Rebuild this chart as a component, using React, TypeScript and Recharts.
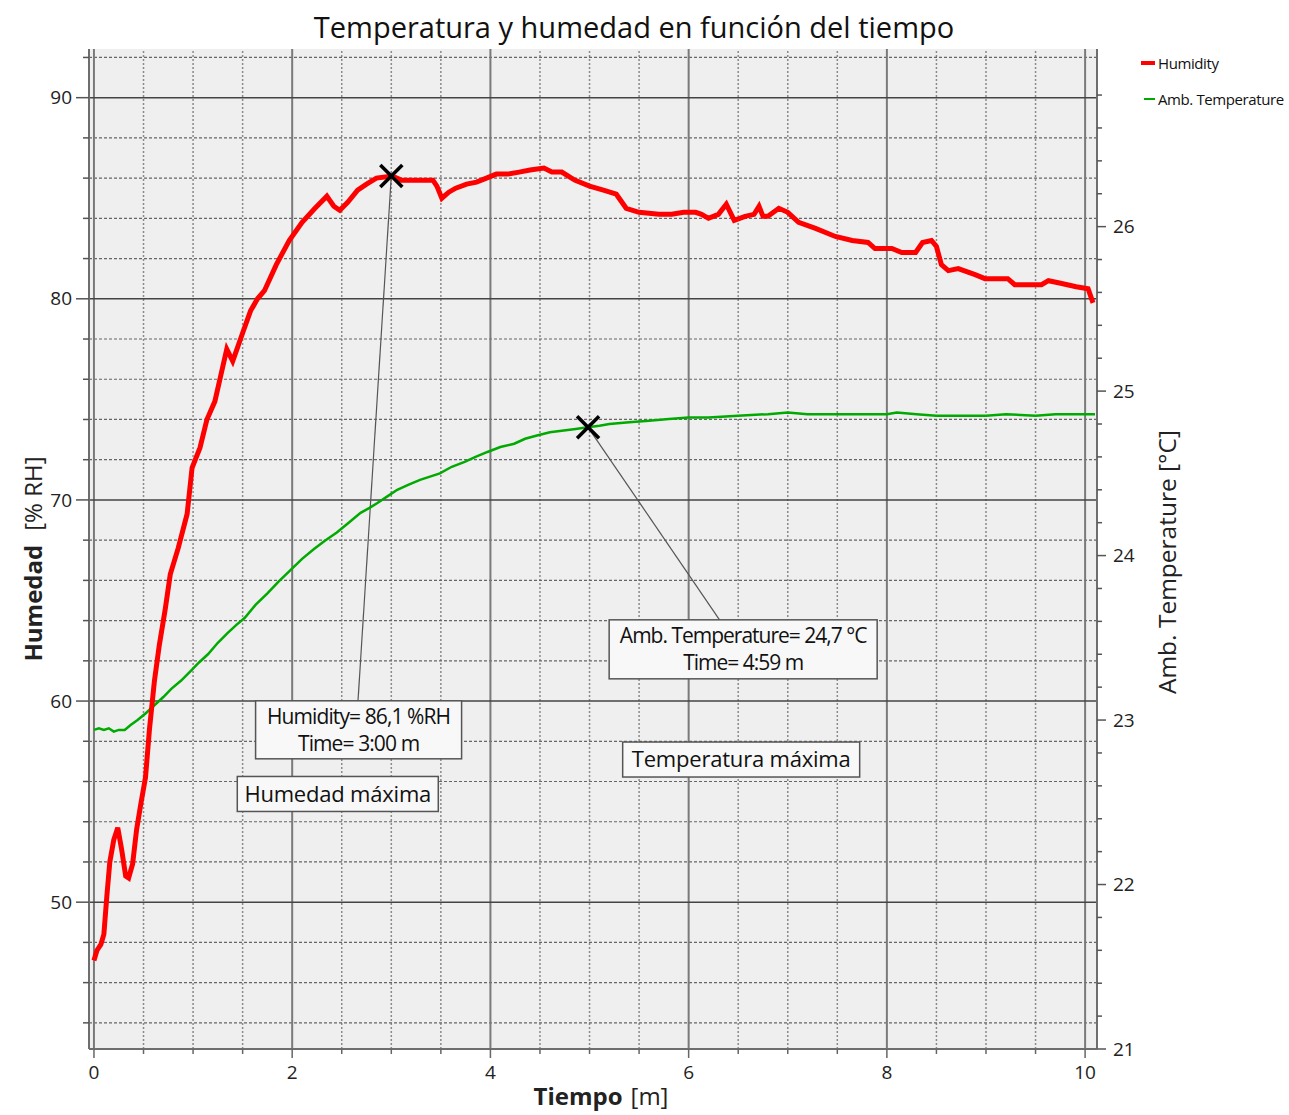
import React from "react"
import { LineChart, Line, XAxis, YAxis, ReferenceLine, ReferenceArea, ReferenceDot, Legend } from "recharts"

const FONT = '"Open Sans", "Noto Sans", sans-serif'

// humedad (% RH) vs tiempo (min)
const humTime = [
  0.0, 0.03, 0.07, 0.1, 0.13, 0.16, 0.2, 0.24, 0.28, 0.32, 0.35, 0.39, 0.43, 0.47, 0.52, 0.56, 0.61, 0.66, 0.72,
  0.77, 0.85, 0.94, 0.99, 1.07, 1.14, 1.22, 1.28, 1.34, 1.4, 1.45, 1.5, 1.58, 1.65, 1.72, 1.84, 1.97, 2.1, 2.23,
  2.35, 2.42, 2.48, 2.56, 2.66, 2.75, 2.85, 3.01, 3.1, 3.2, 3.3, 3.42, 3.46, 3.51, 3.58, 3.65, 3.76, 3.86, 3.96,
  4.06, 4.18, 4.29, 4.4, 4.54, 4.62, 4.72, 4.85, 5.0, 5.14, 5.27, 5.37, 5.5, 5.7, 5.83, 5.95, 6.07, 6.13, 6.2, 6.3,
  6.38, 6.42, 6.46, 6.57, 6.66, 6.71, 6.75, 6.8, 6.91, 7.0, 7.11, 7.28, 7.48, 7.65, 7.81, 7.88, 8.05, 8.15, 8.29,
  8.36, 8.45, 8.5, 8.55, 8.62, 8.72, 8.89, 8.99, 9.22, 9.29, 9.56, 9.63, 9.73, 9.91, 10.03, 10.08,
]
const humValue = [
  47.1, 47.6, 47.9, 48.4, 50.3, 52.0, 53.1, 53.7, 52.6, 51.3, 51.2, 51.9, 53.6, 54.8, 56.2, 58.6, 61.0, 62.8, 64.6,
  66.3, 67.6, 69.3, 71.6, 72.6, 74.0, 74.9, 76.2, 77.5, 76.9, 77.6, 78.3, 79.4, 80.0, 80.4, 81.7, 82.9, 83.8, 84.5,
  85.1, 84.6, 84.4, 84.8, 85.4, 85.7, 86.0, 86.1, 85.9, 85.9, 85.9, 85.9, 85.6, 85.0, 85.3, 85.5, 85.7, 85.8, 86.0,
  86.2, 86.2, 86.3, 86.4, 86.5, 86.3, 86.3, 85.9, 85.6, 85.4, 85.2, 84.5, 84.3, 84.2, 84.2, 84.3, 84.3, 84.2, 84.0, 84.2,
  84.7, 84.3, 83.9, 84.1, 84.2, 84.6, 84.1, 84.1, 84.5, 84.3, 83.8, 83.5, 83.1, 82.9, 82.8, 82.5, 82.5, 82.3, 82.3,
  82.8, 82.9, 82.6, 81.7, 81.4, 81.5, 81.2, 81.0, 81.0, 80.7, 80.7, 80.9, 80.8, 80.6, 80.5, 79.8,
]

// temperatura ambiente (°C) vs tiempo (min)
const tempTime = [
  0.0, 0.05, 0.1, 0.15, 0.2, 0.25, 0.31, 0.37, 0.44, 0.52, 0.61, 0.7, 0.78, 0.88, 0.98, 1.06, 1.15, 1.25, 1.35,
  1.44, 1.52, 1.63, 1.75, 1.86, 1.98, 2.1, 2.22, 2.33, 2.45, 2.57, 2.69, 2.78, 2.86, 2.96, 3.06, 3.17, 3.29, 3.39,
  3.49, 3.61, 3.74, 3.85, 3.97, 4.1, 4.24, 4.35, 4.47, 4.6, 4.74, 4.86, 4.98, 5.1, 5.2, 5.4, 5.6, 5.8, 6.0, 6.2,
  6.5, 6.8, 7.0, 7.2, 7.5, 7.8, 8.0, 8.1, 8.3, 8.5, 8.7, 9.0, 9.2, 9.5, 9.7, 9.9, 10.1,
]
const tempValue = [
  22.94, 22.95, 22.94, 22.95, 22.93, 22.94, 22.94, 22.97, 23.0, 23.04, 23.09, 23.14, 23.19, 23.24, 23.3, 23.35,
  23.4, 23.47, 23.53, 23.58, 23.62, 23.7, 23.77, 23.84, 23.91, 23.98, 24.04, 24.09, 24.14, 24.2, 24.26, 24.29,
  24.32, 24.36, 24.4, 24.43, 24.46, 24.48, 24.5, 24.54, 24.57, 24.6, 24.63, 24.66, 24.68, 24.71, 24.73, 24.75,
  24.76, 24.77, 24.78, 24.79, 24.8, 24.81, 24.82, 24.83, 24.84, 24.84, 24.85, 24.86, 24.87, 24.86, 24.86, 24.86,
  24.86, 24.87, 24.86, 24.85, 24.85, 24.85, 24.86, 24.85, 24.86, 24.86, 24.86,
]

const xMajor = [0, 2, 4, 6, 8, 10]
const xMinor = [0.5, 1, 1.5, 2.5, 3, 3.5, 4.5, 5, 5.5, 6.5, 7, 7.5, 8.5, 9, 9.5]
const leftMajor = [50, 60, 70, 80, 90]
const leftMinor = [44, 46, 48, 52, 54, 56, 58, 62, 64, 66, 68, 72, 74, 76, 78, 82, 84, 86, 88, 92]
const rightTicks = [
  21, 21.2, 21.4, 21.6, 21.8, 22, 22.2, 22.4, 22.6, 22.8, 23, 23.2, 23.4, 23.6, 23.8, 24, 24.2, 24.4, 24.6, 24.8,
  25, 25.2, 25.4, 25.6, 25.8, 26, 26.2, 26.4, 26.6, 26.8,
]

// anotaciones: máximos y cajas de texto (coordenadas de datos)
const humMax = { x: 3.0, y: 86.1 }
const humBox = { x: 2.67, y: 58.57 }
const humTitle = { x: 2.46, y: 55.38 }
const tempMax = { x: 4.985, y: 24.78 }
const tempBox = { x: 6.55, y: 23.43 }
const tempTitle = { x: 6.53, y: 22.76 }

const xDomain = [-0.05, 10.12]
const leftDomain = [42.7, 92.42]
const rightDomain = [21, 27.08]

const humData = humTime.map((t, i) => ({ t, hum: humValue[i] }))
const tempData = tempTime.map((t, i) => ({ t, temp: tempValue[i] }))

const isWhole = (v: number) => Math.abs(v - Math.round(v)) < 1e-6

const XTick = (props: any) => {
  const { x, y, payload } = props
  const major = isWhole(payload.value / 2)
  return (
    <g>
      <line x1={x} x2={x} y1={y} y2={y + (major ? 9 : 5)} stroke="#666" strokeWidth={1.5} />
      {major && (
        <text x={x} y={y + 30} textAnchor="middle" fontSize={19} fill="#222" fontFamily={FONT}>
          {payload.value}
        </text>
      )}
    </g>
  )
}

const LeftTick = (props: any) => {
  const { x, y, payload } = props
  const major = isWhole(payload.value / 10)
  return (
    <g>
      <line x1={x - (major ? 13 : 6)} x2={x} y1={y} y2={y} stroke="#555" strokeWidth={1.5} />
      {major && (
        <text x={x - 17} y={y} dy="0.35em" textAnchor="end" fontSize={19} fill="#222" fontFamily={FONT}>
          {payload.value}
        </text>
      )}
    </g>
  )
}

const RightTick = (props: any) => {
  const { x, y, payload } = props
  const major = isWhole(payload.value)
  return (
    <g>
      <line x1={x} x2={x + (major ? 9 : 5)} y1={y} y2={y} stroke="#555" strokeWidth={1.5} />
      {major && (
        <text x={x + 16} y={y} dy="0.35em" textAnchor="start" fontSize={19} fill="#222" fontFamily={FONT}>
          {Math.round(payload.value)}
        </text>
      )}
    </g>
  )
}

const XMark = (props: any) => {
  const { cx, cy } = props
  const s = 11
  return (
    <g>
      <line x1={cx - s} y1={cy - s} x2={cx + s} y2={cy + s} stroke="#000" strokeWidth={3.5} />
      <line x1={cx - s} y1={cy + s} x2={cx + s} y2={cy - s} stroke="#000" strokeWidth={3.5} />
    </g>
  )
}

const makeBox = (lines: string[], w: number, h: number, fontSize: number, spacing: number) => (props: any) => {
  const { cx, cy } = props
  const lh = lines.length > 1 ? 27 : 0
  return (
    <g>
      <rect x={cx - w / 2} y={cy - h / 2} width={w} height={h} fill="#f8f8f8" stroke="#555" strokeWidth={1.5} />
      {lines.map((s, i) => (
        <text
          key={i}
          x={cx}
          y={cy + (i - (lines.length - 1) / 2) * lh}
          dy="0.36em"
          textAnchor="middle"
          fontSize={fontSize}
          letterSpacing={spacing}
          fill="#111"
          fontFamily={FONT}
        >
          {s}
        </text>
      ))}
    </g>
  )
}

const HumBox = makeBox(["Humidity= 86,1 %RH", "Time= 3:00 m"], 206, 58, 21, -0.9)
const HumTitle = makeBox(["Humedad máxima"], 201, 35, 22, -0.2)
const TempBox = makeBox(["Amb. Temperature= 24,7 °C", "Time= 4:59 m"], 268, 59, 21, -1)
const TempTitle = makeBox(["Temperatura máxima"], 237, 35, 22, -0.2)

const XLabel = (props: any) => {
  const { viewBox } = props
  const cx = viewBox.x + viewBox.width / 2 + 8
  return (
    <text x={cx} y={viewBox.y + 56} textAnchor="middle" fontSize={24} fill="#222" fontFamily={FONT}>
      <tspan fontWeight="bold">Tiempo</tspan>
      <tspan dx={8}>[m]</tspan>
    </text>
  )
}

const LeftLabel = (props: any) => {
  const { viewBox } = props
  const x = viewBox.x + 22
  const y = viewBox.y + viewBox.height / 2 + 10
  return (
    <text x={x} y={y} transform={`rotate(-90, ${x}, ${y})`} textAnchor="middle" fontSize={24} fill="#222" fontFamily={FONT}>
      <tspan fontWeight="bold">Humedad</tspan>
      <tspan dx={14}>[% RH]</tspan>
    </text>
  )
}

const RightLabel = (props: any) => {
  const { viewBox } = props
  const x = viewBox.x + 79
  const y = viewBox.y + viewBox.height / 2 + 13
  return (
    <text x={x} y={y} transform={`rotate(-90, ${x}, ${y})`} textAnchor="middle" fontSize={24.5} fill="#222" fontFamily={FONT}>
      Amb. Temperature [°C]
    </text>
  )
}

const LegendBox = () => (
  <div style={{ fontFamily: FONT, fontSize: 15, letterSpacing: -0.4, color: "#111" }}>
    <div style={{ display: "flex", alignItems: "center", height: 26 }}>
      <span style={{ width: 14, height: 4, background: "#ff0000", marginRight: 3 }} />
      Humidity
    </div>
    <div style={{ display: "flex", alignItems: "center", height: 26, marginTop: 10 }}>
      <span style={{ width: 11, height: 2, background: "#00aa00", marginLeft: 3, marginRight: 3 }} />
      Amb. Temperature
    </div>
  </div>
)

export default function App() {
  return (
    <div style={{ position: "absolute", left: 0, top: 0, width: 1289, height: 1115, background: "#fff" }}>
      <div
        style={{
          position: "absolute",
          left: 0,
          top: 9,
          width: 1268,
          textAlign: "center",
          fontFamily: FONT,
          fontSize: 29,
          lineHeight: "36px",
          color: "#111",
        }}
      >
        Temperatura y humedad en función del tiempo
      </div>
      <LineChart width={1289} height={1115} margin={{ top: 49, right: 100, bottom: 10, left: 20 }}>
        <XAxis
          dataKey="t"
          type="number"
          domain={xDomain}
          allowDataOverflow
          ticks={[...xMajor, ...xMinor].sort((a, b) => a - b)}
          interval={0}
          tickSize={0}
          tickMargin={0}
          tickLine={false}
          tick={<XTick />}
          axisLine={{ stroke: "#6e6e6e", strokeWidth: 2 }}
          height={56}
          label={<XLabel />}
        />
        <YAxis
          yAxisId="left"
          type="number"
          domain={leftDomain}
          allowDataOverflow
          ticks={[...leftMajor, ...leftMinor].sort((a, b) => a - b)}
          interval={0}
          tickSize={0}
          tickMargin={0}
          tickLine={false}
          tick={<LeftTick />}
          axisLine={{ stroke: "#6e6e6e", strokeWidth: 2 }}
          width={69}
          label={<LeftLabel />}
        />
        <YAxis
          yAxisId="right"
          orientation="right"
          type="number"
          domain={rightDomain}
          allowDataOverflow
          ticks={rightTicks}
          interval={0}
          tickSize={0}
          tickMargin={0}
          tickLine={false}
          tick={<RightTick />}
          axisLine={{ stroke: "#6e6e6e", strokeWidth: 2 }}
          width={92}
          label={<RightLabel />}
        />
        <ReferenceArea
          yAxisId="left"
          x1={xDomain[0]}
          x2={xDomain[1]}
          y1={leftDomain[0]}
          y2={leftDomain[1]}
          fill="#efefef"
          fillOpacity={1}
          stroke="none"
        />
        {xMinor.map((v) => (
          <ReferenceLine key={"xm" + v} yAxisId="left" x={v} stroke="#8a8a8a" strokeWidth={1.5} strokeDasharray="2 2" />
        ))}
        {leftMinor.map((v) => (
          <ReferenceLine key={"ym" + v} yAxisId="left" y={v} stroke="#666" strokeWidth={1.2} strokeDasharray="3 2" />
        ))}
        {xMajor.map((v) => (
          <ReferenceLine key={"xM" + v} yAxisId="left" x={v} stroke="#7a7a7a" strokeWidth={2} />
        ))}
        {leftMajor.map((v) => (
          <ReferenceLine key={"yM" + v} yAxisId="left" y={v} stroke="#444" strokeWidth={1.5} />
        ))}
        <ReferenceLine
          yAxisId="left"
          segment={[humMax, { x: 2.664, y: 60.01 }]}
          stroke="#555"
          strokeWidth={1.2}
        />
        <ReferenceLine
          yAxisId="right"
          segment={[tempMax, { x: 6.317, y: 23.605 }]}
          stroke="#555"
          strokeWidth={1.2}
        />
        <Line
          data={tempData}
          yAxisId="right"
          dataKey="temp"
          name="Amb. Temperature"
          type="linear"
          stroke="#00aa00"
          strokeWidth={2.5}
          dot={false}
          isAnimationActive={false}
        />
        <Line
          data={humData}
          yAxisId="left"
          dataKey="hum"
          name="Humidity"
          type="linear"
          stroke="#ff0000"
          strokeWidth={5}
          dot={false}
          isAnimationActive={false}
        />
        <ReferenceDot yAxisId="left" x={humMax.x} y={humMax.y} shape={XMark} />
        <ReferenceDot yAxisId="right" x={tempMax.x} y={tempMax.y} shape={XMark} />
        <ReferenceDot yAxisId="left" x={humBox.x} y={humBox.y} shape={HumBox} />
        <ReferenceDot yAxisId="left" x={humTitle.x} y={humTitle.y} shape={HumTitle} />
        <ReferenceDot yAxisId="right" x={tempBox.x} y={tempBox.y} shape={TempBox} />
        <ReferenceDot yAxisId="right" x={tempTitle.x} y={tempTitle.y} shape={TempTitle} />
        <Legend
          layout="vertical"
          align="center"
          verticalAlign="middle"
          content={<LegendBox />}
          wrapperStyle={{ top: 50, left: 1141, width: 148 }}
        />
      </LineChart>
    </div>
  )
}
